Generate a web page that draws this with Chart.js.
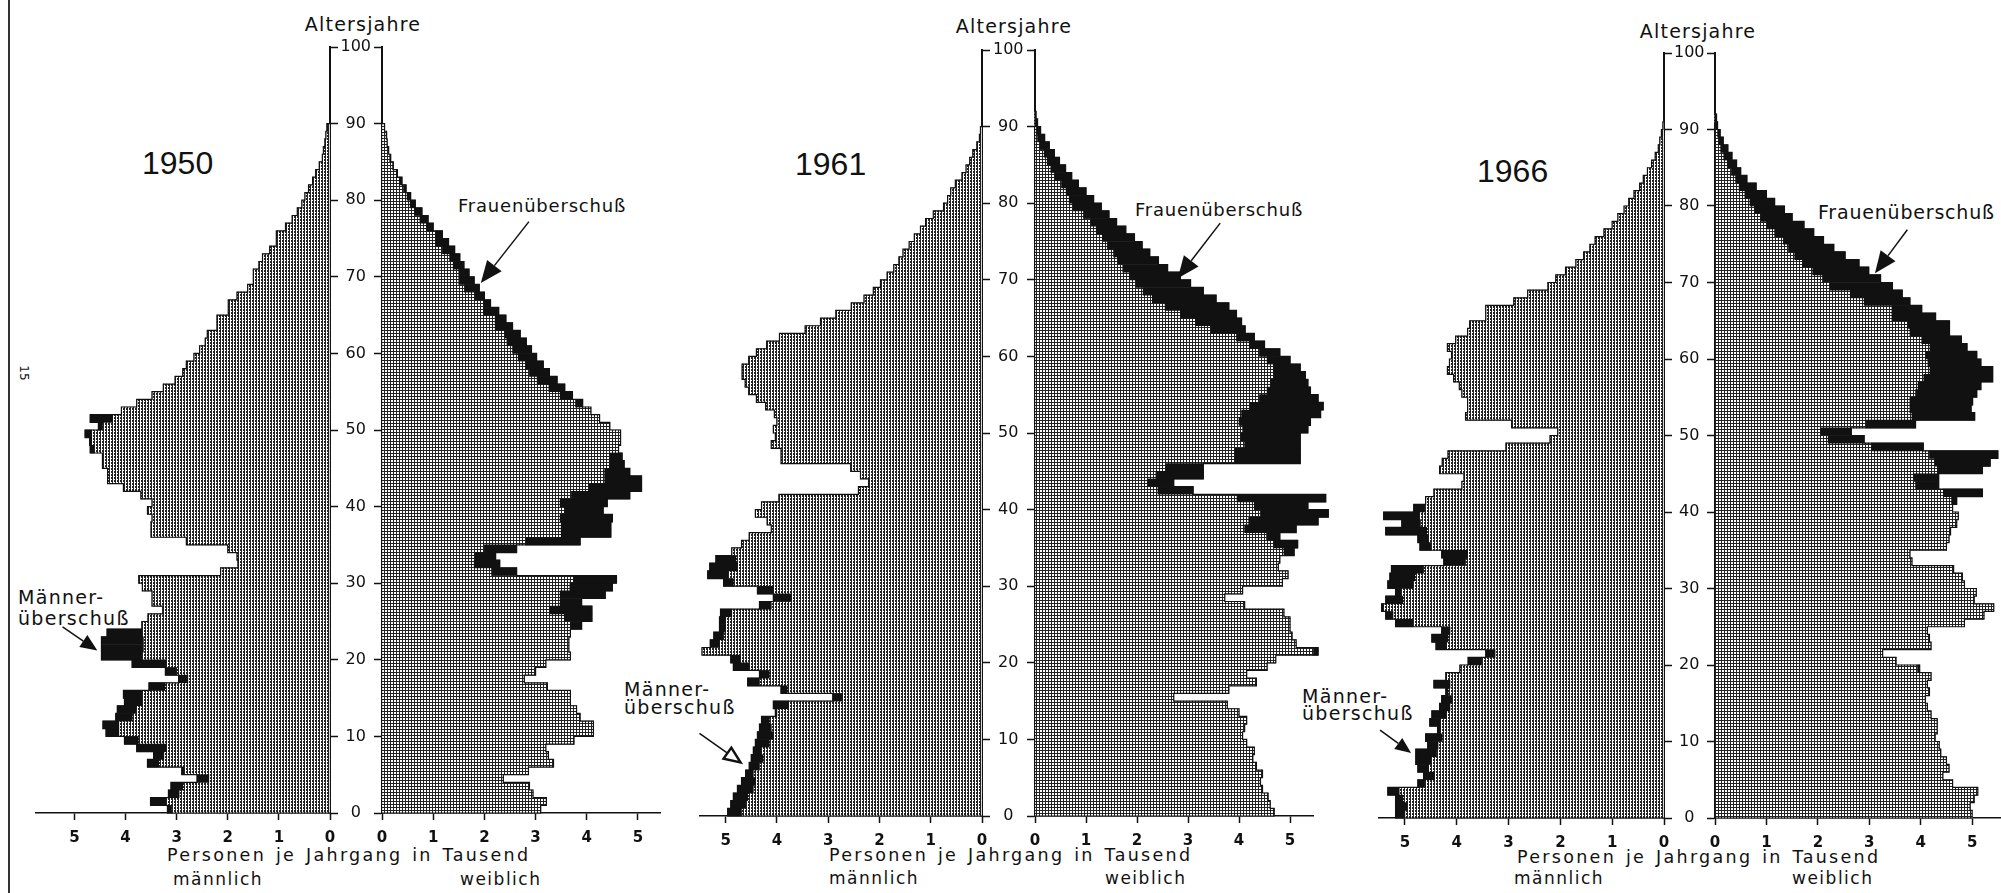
<!DOCTYPE html>
<html lang="de">
<head>
<meta charset="utf-8">
<title>Altersaufbau 1950, 1961, 1966</title>
<script src="https://cdn.jsdelivr.net/npm/chart.js@4.4.1/dist/chart.umd.min.js"></script>
<style>
  html, body { margin: 0; padding: 0; background: #fff; }
  body { width: 2001px; height: 893px; position: relative; overflow: hidden; font-family: "DejaVu Sans", sans-serif; color: #111; }
  .txt { position: absolute; white-space: pre; line-height: 1; }
  .year { font-family: "Liberation Sans", Arial, sans-serif; font-size: 32px; }
  .alter { font-size: 19px; letter-spacing: 1.2px; transform: translateX(-50%); }
  .note { font-size: 18px; letter-spacing: 0.8px; }
  .men { font-size: 19px; letter-spacing: 1.3px; }
  .foot { font-size: 17.5px; letter-spacing: 2.3px; word-spacing: 2px; }
  .sex { font-size: 17px; letter-spacing: 1.5px; }
  .edge { position: absolute; left: 8px; top: 0; width: 1.5px; height: 893px; background: #333; }
  .page { position: absolute; left: 16px; top: 366px; font-size: 12px; transform: rotate(90deg); }
</style>
</head>
<body>
<div class="edge"></div>
<div class="page">15</div>

<div class="txt year" style="left:142px;top:147px">1950</div>
<div class="txt year" style="left:795px;top:148px">1961</div>
<div class="txt year" style="left:1477px;top:155px">1966</div>

<div class="txt alter" style="left:363px;top:15px">Altersjahre</div>
<div class="txt alter" style="left:1014px;top:17px">Altersjahre</div>
<div class="txt alter" style="left:1698px;top:22px">Altersjahre</div>

<div class="txt note" style="left:458px;top:197px">Frauenüberschuß</div>
<div class="txt note" style="left:1135px;top:201px">Frauenüberschuß</div>
<div class="txt note" style="left:1818px;top:203px;font-size:19px">Frauenüberschuß</div>

<div class="txt men" style="left:18px;top:588px">Männer-</div>
<div class="txt men" style="left:18px;top:609px">überschuß</div>
<div class="txt men" style="left:624px;top:680px">Männer-</div>
<div class="txt men" style="left:624px;top:698px">überschuß</div>
<div class="txt men" style="left:1302px;top:687px">Männer-</div>
<div class="txt men" style="left:1302px;top:704px">überschuß</div>

<div class="txt foot" style="left:167px;top:847px">Personen je Jahrgang in Tausend</div>
<div class="txt sex" style="left:173px;top:871px">männlich</div>
<div class="txt sex" style="left:460px;top:871px">weiblich</div>
<div class="txt foot" style="left:829px;top:847px">Personen je Jahrgang in Tausend</div>
<div class="txt sex" style="left:829px;top:870px">männlich</div>
<div class="txt sex" style="left:1105px;top:870px">weiblich</div>
<div class="txt foot" style="left:1517px;top:849px">Personen je Jahrgang in Tausend</div>
<div class="txt sex" style="left:1514px;top:870px">männlich</div>
<div class="txt sex" style="left:1792px;top:870px">weiblich</div>

<script>
// Personen je Jahrgang in Tausend, Index = Alter in Jahren (0, 1, 2, ...)
const male1950 = [
  3.18, 3.51, 3.16, 3.11, 2.60, 2.90, 3.57, 3.45, 3.78, 4.02,
  4.38, 4.44, 4.19, 4.16, 4.02, 4.04, 3.54, 2.96, 3.22, 3.87,
  4.47, 4.47, 4.47, 4.36, 3.68, 3.56, 3.27, 3.48, 3.48, 3.67,
  3.74, 2.14, 1.80, 1.82, 2.00, 2.81, 3.50, 3.50, 3.48, 3.57,
  3.48, 3.70, 4.04, 4.35, 4.35, 4.45, 4.45, 4.69, 4.70, 4.79,
  4.53, 4.69, 4.08, 3.78, 3.48, 3.26, 3.03, 2.88, 2.81, 2.66,
  2.55, 2.44, 2.40, 2.21, 2.21, 1.99, 1.99, 1.82, 1.61, 1.50,
  1.50, 1.39, 1.32, 1.18, 1.05, 1.05, 0.87, 0.74, 0.64, 0.55,
  0.49, 0.42, 0.34, 0.28, 0.21, 0.15, 0.13, 0.10, 0.08, 0.06
];
const female1950 = [
  3.10, 3.21, 2.95, 2.88, 2.37, 2.86, 3.35, 3.25, 3.20, 3.75,
  4.13, 4.13, 3.87, 3.80, 3.68, 3.68, 3.23, 2.78, 3.00, 3.20,
  3.68, 3.65, 3.65, 3.68, 3.90, 4.10, 4.10, 3.90, 4.36, 4.50,
  4.58, 2.63, 2.30, 2.22, 2.63, 3.87, 4.47, 4.47, 4.50, 4.32,
  4.40, 4.84, 5.07, 5.07, 4.84, 4.73, 4.69, 4.62, 4.66, 4.66,
  4.45, 4.25, 4.08, 3.92, 3.72, 3.57, 3.42, 3.27, 3.15, 3.02,
  2.92, 2.82, 2.70, 2.55, 2.42, 2.28, 2.12, 2.00, 1.90, 1.80,
  1.70, 1.60, 1.52, 1.42, 1.30, 1.18, 1.00, 0.90, 0.78, 0.65,
  0.56, 0.47, 0.39, 0.30, 0.22, 0.17, 0.13, 0.10, 0.09, 0.05
];
const male1961 = [
  4.96, 4.90, 4.85, 4.77, 4.69, 4.61, 4.54, 4.50, 4.46, 4.42,
  4.38, 4.34, 4.30, 4.03, 4.07, 2.91, 3.92, 4.57, 4.34, 4.85,
  4.90, 5.46, 5.30, 5.23, 5.12, 5.12, 5.10, 4.34, 4.07, 4.38,
  5.04, 5.35, 5.31, 5.19, 4.88, 4.69, 4.54, 4.11, 4.19, 4.42,
  4.30, 3.96, 2.41, 2.21, 2.37, 2.56, 3.92, 3.92, 4.11, 4.03,
  4.07, 4.00, 4.05, 4.22, 4.40, 4.55, 4.62, 4.68, 4.68, 4.55,
  4.40, 4.20, 3.95, 3.45, 3.15, 2.85, 2.55, 2.30, 2.12, 1.98,
  1.85, 1.72, 1.62, 1.54, 1.42, 1.32, 1.20, 1.10, 0.95, 0.75,
  0.67, 0.61, 0.52, 0.39, 0.31, 0.24, 0.18, 0.10, 0.05, 0.03
];
const female1961 = [
  4.69, 4.61, 4.57, 4.46, 4.42, 4.46, 4.34, 4.27, 4.30, 4.15,
  4.07, 4.11, 4.15, 4.00, 3.77, 2.72, 3.80, 4.34, 4.15, 4.55,
  4.72, 5.55, 5.12, 5.04, 5.00, 5.00, 4.88, 4.11, 3.72, 4.07,
  4.85, 4.96, 4.77, 4.80, 5.08, 5.15, 4.80, 5.12, 5.55, 5.75,
  5.35, 5.70, 3.10, 2.72, 3.30, 3.30, 5.20, 5.20, 5.20, 5.20,
  5.35, 5.40, 5.60, 5.65, 5.55, 5.40, 5.35, 5.30, 5.20, 5.00,
  4.80, 4.50, 4.30, 4.12, 4.05, 3.95, 3.80, 3.55, 3.30, 3.05,
  2.85, 2.60, 2.42, 2.25, 2.10, 1.95, 1.78, 1.60, 1.45, 1.30,
  1.15, 1.00, 0.85, 0.72, 0.60, 0.48, 0.38, 0.28, 0.19, 0.11,
  0.05, 0.02
];
const male1966 = [
  5.18, 5.18, 5.18, 5.33, 4.75, 4.64, 4.75, 4.79, 4.79, 4.56,
  4.60, 4.37, 4.52, 4.48, 4.33, 4.29, 4.21, 4.44, 4.21, 3.94,
  3.78, 3.44, 4.40, 4.48, 4.29, 5.18, 5.37, 5.45, 5.37, 5.18,
  5.33, 5.29, 5.26, 4.25, 4.29, 4.71, 4.75, 5.37, 5.06, 5.41,
  4.83, 4.60, 4.44, 3.90, 3.86, 4.33, 4.28, 4.17, 3.05, 2.20,
  2.05, 2.94, 3.83, 3.79, 3.79, 3.90, 3.95, 4.06, 4.18, 4.14,
  4.10, 4.18, 4.02, 3.79, 3.75, 3.44, 3.44, 2.90, 2.63, 2.24,
  2.09, 1.90, 1.70, 1.55, 1.43, 1.33, 1.16, 1.00, 0.89, 0.77,
  0.68, 0.58, 0.47, 0.40, 0.32, 0.24, 0.17, 0.11, 0.08, 0.05,
  0.02
];
const female1966 = [
  5.00, 4.96, 5.04, 5.11, 4.62, 4.43, 4.55, 4.50, 4.39, 4.36,
  4.28, 4.32, 4.32, 4.20, 4.13, 4.09, 4.17, 4.13, 4.20, 3.98,
  3.52, 3.26, 4.20, 4.17, 4.13, 4.85, 5.23, 5.42, 5.04, 5.08,
  4.85, 4.81, 4.64, 3.83, 3.79, 4.50, 4.55, 4.58, 4.70, 4.73,
  4.62, 4.70, 5.20, 4.35, 4.35, 5.20, 5.35, 5.50, 4.05, 2.90,
  2.65, 3.90, 5.05, 4.98, 5.01, 5.09, 5.17, 5.40, 5.40, 5.17,
  5.09, 4.90, 4.79, 4.56, 4.56, 4.29, 4.02, 3.79, 3.64, 3.45,
  3.22, 2.99, 2.80, 2.53, 2.31, 2.11, 1.92, 1.73, 1.50, 1.35,
  1.16, 1.00, 0.80, 0.62, 0.50, 0.42, 0.33, 0.25, 0.16, 0.10,
  0.05, 0.03
];
const xTicks = [0, 1, 2, 3, 4, 5];

// Lage der drei Pyramiden auf dem Blatt (Pixel) und Pfeile (in Achsenwerten)
const panels = [
  { male: male1950, female: female1950, mZero: 330, fZero: 382, mUnit: 51.2, fUnit: 51.2,
    y0: 813, y100: 47, mMax: 5.75, fMax: 5.43,
    mArrow: { from: [5.23, 24.3], to: [4.55, 21.2], size: 17 },
    fArrow: { from: [2.87, 77.2], to: [1.93, 69.2], size: 22 } },
  { male: male1961, female: female1961, mZero: 982, fZero: 1035, mUnit: 51.2, fUnit: 51.1,
    y0: 815.5, y100: 50, mMax: 5.5, fMax: 5.45,
    mArrow: { from: [5.51, 10.8], to: [4.71, 7.0], size: 16, open: true },
    fArrow: { from: [3.63, 77.4], to: [2.80, 70.2], size: 22 } },
  { male: male1966, female: female1966, mZero: 1664, fZero: 1715, mUnit: 51.8, fUnit: 51.4,
    y0: 818, y100: 53, mMax: 5.5, fMax: 5.6,
    mArrow: { from: [5.48, 11.5], to: [4.88, 8.5], size: 16 },
    fArrow: { from: [3.74, 76.9], to: [3.11, 71.2], size: 22 } }
];

const TICK = 8, XAXIS = 36, PAD_T = 14, PAD_L = 44, PAD_R = 30;
const INK = '#111';

Chart.defaults.font.family = '"DejaVu Sans", sans-serif';
Chart.defaults.color = INK;

// Raster: männlich Senkrechtschraffur, weiblich Gitter mit hellen Punkten
function makePattern(kind) {
  const c = document.createElement('canvas');
  c.width = 3; c.height = 3;
  const g = c.getContext('2d');
  g.fillStyle = '#fff';
  g.fillRect(0, 0, 3, 3);
  g.fillStyle = '#222';
  if (kind === 'm') {
    g.fillRect(0, 0, 1, 3);
    g.fillRect(2, 0, 1, 2);
  } else {
    g.fillRect(0, 0, 3, 1);
    g.fillRect(0, 0, 1, 3);
  }
  return g.createPattern(c, 'repeat');
}
const malePattern = makePattern('m');
const femalePattern = makePattern('f');

// gemeinsamer Teil, Überschuß und Umriß aus den Werten beider Geschlechter
function split(own, other) {
  const base = [], extra = [], edge = [{ x: 0, y: 0 }];
  own.forEach((v, a) => {
    const o = other[a] || 0;
    const m = Math.min(v, o);
    base.push({ x: m, y: a + 0.5 });
    if (v > o) extra.push({ x: [m, v], y: a + 0.5 });
    edge.push({ x: v, y: a + 1 });
  });
  edge.push({ x: 0, y: own.length });
  return { base, extra, edge };
}

const arrowPlugin = {
  id: 'arrows',
  afterDatasetsDraw(chart, args, opts) {
    const a = opts.arrow;
    if (!a) return;
    const { ctx, scales: { x, y } } = chart;
    const x1 = x.getPixelForValue(a.from[0]), y1 = y.getPixelForValue(a.from[1]);
    const x2 = x.getPixelForValue(a.to[0]), y2 = y.getPixelForValue(a.to[1]);
    const ang = Math.atan2(y2 - y1, x2 - x1);
    const L = a.size, W = L * 0.42;
    const bx = x2 - L * Math.cos(ang), by = y2 - L * Math.sin(ang);
    ctx.save();
    ctx.strokeStyle = INK;
    ctx.lineWidth = 1.5;
    ctx.beginPath();
    ctx.moveTo(x1, y1);
    ctx.lineTo(bx, by);
    ctx.stroke();
    ctx.beginPath();
    ctx.moveTo(x2, y2);
    ctx.lineTo(bx + W * Math.sin(ang), by - W * Math.cos(ang));
    ctx.lineTo(bx - W * Math.sin(ang), by + W * Math.cos(ang));
    ctx.closePath();
    if (a.open) {
      ctx.fillStyle = '#fff';
      ctx.fill();
      ctx.lineWidth = 2.5;
      ctx.stroke();
    } else {
      ctx.fillStyle = INK;
      ctx.fill();
    }
    ctx.restore();
  }
};

function addCanvas(left, top, width, height) {
  const c = document.createElement('canvas');
  c.width = Math.round(width);
  c.height = Math.round(height);
  c.style.position = 'absolute';
  c.style.left = left + 'px';
  c.style.top = top + 'px';
  document.body.appendChild(c);
  return c;
}

function drawSide(p, isMale) {
  const own = isMale ? p.male : p.female;
  const other = isMale ? p.female : p.male;
  const s = split(own, other);
  const gap = p.fZero - p.mZero;
  const top = p.y100 - PAD_T;
  const height = p.y0 + XAXIS - top;
  let left, width, padding;
  if (isMale) {
    left = p.mZero - p.mMax * p.mUnit - PAD_L;
    width = p.mZero + TICK - left;
    padding = { left: PAD_L, top: PAD_T, right: 0, bottom: 0 };
  } else {
    left = p.mZero;
    width = p.fZero + p.fMax * p.fUnit + PAD_R - left;
    padding = { left: 0, top: PAD_T, right: PAD_R, bottom: 0 };
  }
  const canvas = addCanvas(left, top, width, height);

  new Chart(canvas, {
    type: 'bar',
    data: {
      datasets: [
        { type: 'line', indexAxis: 'y', data: s.edge, stepped: 'before', borderColor: INK,
          borderWidth: 1.2, pointRadius: 0, fill: false, tension: 0, clip: false, order: 0 },
        { data: s.extra, backgroundColor: INK, order: 1, clip: false },
        { data: s.base, backgroundColor: isMale ? malePattern : femalePattern, order: 2, clip: false }
      ]
    },
    options: {
      indexAxis: 'y',
      responsive: false,
      animation: false,
      events: [],
      layout: { autoPadding: false, padding },
      datasets: { bar: { barPercentage: 1, categoryPercentage: 1, grouped: false, borderWidth: 0 } },
      plugins: {
        legend: { display: false },
        tooltip: { enabled: false },
        arrows: { arrow: isMale ? p.mArrow : p.fArrow }
      },
      scales: {
        x: {
          type: 'linear',
          reverse: isMale,
          min: 0,
          max: isMale ? p.mMax : p.fMax,
          afterBuildTicks: (sc) => { sc.ticks = xTicks.map(v => ({ value: v })); },
          afterFit: (sc) => { sc.height = XAXIS; },
          ticks: { font: { size: 15, weight: 'bold' }, padding: 9, color: INK, maxRotation: 0 },
          grid: { display: true, drawOnChartArea: false, drawTicks: true, tickLength: 7,
                  tickWidth: 1.5, tickColor: INK, color: INK },
          border: { display: true, color: INK, width: 1.5 }
        },
        y: {
          type: 'linear',
          position: isMale ? 'right' : 'left',
          min: 0,
          max: 100,
          offset: false,
          afterFit: (sc) => { sc.width = isMale ? TICK : gap; },
          ticks: {
            display: !isMale,
            stepSize: 10,
            font: { size: 16 },
            color: INK,
            crossAlign: 'center',
            padding: Math.max(0, gap / 2 - TICK - 15)
          },
          grid: { display: true, offset: false, drawOnChartArea: false, drawTicks: true, tickLength: TICK,
                  tickWidth: 1.5, tickColor: INK, color: INK },
          border: { display: true, color: INK, width: 2 }
        }
      }
    },
    plugins: [arrowPlugin]
  });
}

panels.forEach(p => {
  drawSide(p, true);
  drawSide(p, false);
});
</script>
</body>
</html>
